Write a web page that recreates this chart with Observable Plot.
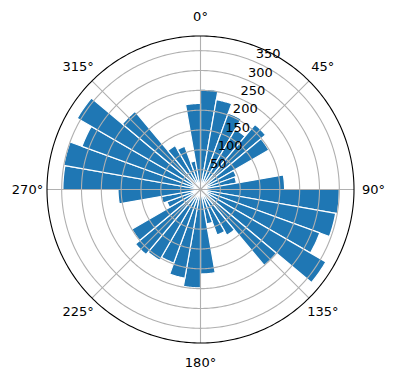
<!DOCTYPE html>
<html>
<head>
<meta charset="utf-8">
<script src="https://cdn.jsdelivr.net/npm/d3@7"></script>
<script src="https://cdn.jsdelivr.net/npm/@observablehq/plot@0.6"></script>
<style>
  html, body { margin: 0; padding: 0; background: #fff; }
</style>
</head>
<body>
<div id="chart"></div>
<script>
// ---- data ----
const binStarts = [0, 10, 20, 30, 40, 50, 60, 70, 80, 90, 100, 110, 120, 130, 140, 150, 160, 170,
                   180, 190, 200, 210, 220, 230, 240, 250, 260, 270, 280, 290, 300, 310, 320, 330, 340, 350];
const binWidth = 10;
const counts = [253, 230, 205, 175, 214, 199, 96, 92, 212, 350, 346, 320, 365, 250, 133, 122, 88, 213,
                248, 227, 197, 206, 214, 200, 90, 100, 208, 347, 350, 318, 359, 257, 128, 116, 73, 217];
const thetaTicks = [0, 45, 90, 135, 180, 225, 270, 315];
const thetaLabels = ["0°", "45°", "90°", "135°", "180°", "225°", "270°", "315°"];
const rTicks = [50, 100, 150, 200, 250, 300, 350];
const rTickLabels = ["50", "100", "150", "200", "250", "300", "350"];
const rMax = 387;

// ---- polar mapping via azimuthal-equidistant projection centred on the pole ----
const DEG = 0.1;                       // degrees of arc per radial unit
const lon = (theta) => 180 - theta;    // clockwise, zero at top
const lat = (r) => 90 - r * DEG;
const circle = (r) => d3.geoCircle().center([0, 90]).radius(r * DEG).precision(1)();

const wedgePoints = [];
binStarts.forEach((t0, i) => {
  wedgePoints.push({bar: i, theta: t0, r: 0});
  for (let a = 0; a <= binWidth; a += 0.5) wedgePoints.push({bar: i, theta: t0 + a, r: counts[i]});
});

const chart = Plot.plot({
  width: 396,
  height: 380,
  margin: 0,
  projection: {
    type: "azimuthal-equidistant",
    rotate: [0, -90],
    domain: circle(rMax),
    insetLeft: 46.5,
    insetRight: 42.5,
    insetTop: 35.5,
    insetBottom: 37.5
  },
  style: {fontFamily: "DejaVu Sans", fontSize: "13px", background: "white", overflow: "visible", color: "black"},
  marks: [
    Plot.line(wedgePoints, {
      x: (d) => lon(d.theta), y: (d) => lat(d.r), z: "bar",
      fill: "#1f77b4", stroke: "white", strokeWidth: 1.2, curve: "linear-closed"
    }),
    Plot.geo(rTicks, {geometry: (r) => circle(r), fill: "none", stroke: "#b0b0b0", strokeWidth: 1.1}),
    Plot.link(thetaTicks, {
      x1: (t) => lon(t), y1: () => 90, x2: (t) => lon(t), y2: () => lat(rMax),
      stroke: "#b0b0b0", strokeWidth: 1.1
    }),
    Plot.geo([rMax], {geometry: (r) => circle(r), fill: "none", stroke: "black", strokeWidth: 1.1}),
    Plot.text(thetaTicks, {
      x: (t) => lon(t), y: () => lat(rMax * 1.127),
      text: (t, i) => thetaLabels[i], fill: "black", fontSize: 13
    }),
    Plot.text(rTicks, {
      x: () => lon(22.5), y: (r) => lat(r),
      text: (r, i) => rTickLabels[i], fill: "black", fontSize: 13,
      textAnchor: "start", lineAnchor: "bottom", dx: 2, dy: -3
    })
  ]
});
document.getElementById("chart").appendChild(chart);
</script>
</body>
</html>
